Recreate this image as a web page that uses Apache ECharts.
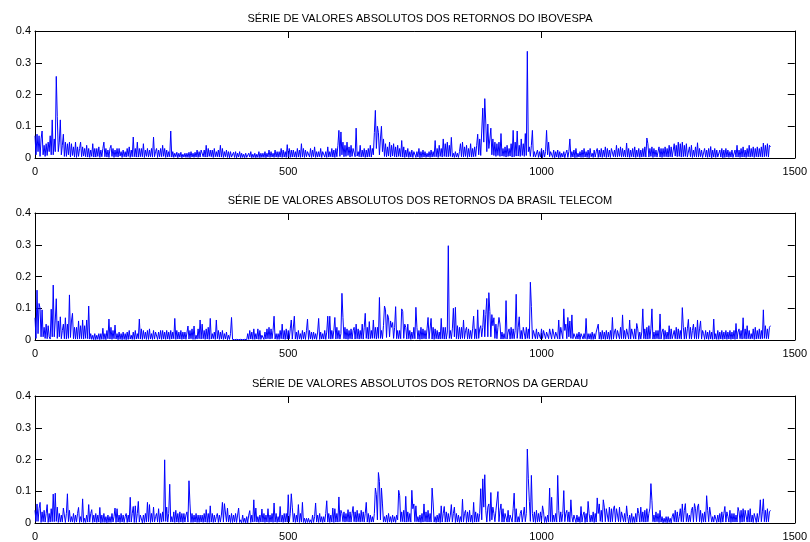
<!DOCTYPE html>
<html>
<head>
<meta charset="utf-8">
<script src="https://cdn.jsdelivr.net/npm/echarts@6/dist/echarts.min.js"></script>
<style>
html,body{margin:0;padding:0;background:#fff;}
#chart{width:810px;height:542px;}
</style>
</head>
<body>
<div id="chart"></div>
<script>
const titles = [
  'SÉRIE DE VALORES ABSOLUTOS DOS RETORNOS DO IBOVESPA',
  'SÉRIE DE VALORES ABSOLUTOS DOS RETORNOS DA BRASIL TELECOM',
  'SÉRIE DE VALORES ABSOLUTOS DOS RETORNOS DA GERDAU'
];
const xTicks = [0, 500, 1000, 1500];
const yTicks = [0, 0.1, 0.2, 0.3, 0.4];
const obsStep = 2; // one value read every 2 observations

const ibovespa = [
.07,.01,.075,.02,.07,.005,.06,.085,.01,.04,.005,.045,.008,.05,.02,
.07,.01,.12,.01,.06,.02,.257,.13,.02,.05,.12,.01,.04,.075,.005,
.05,.005,.045,.01,.05,.003,.045,.008,.035,.003,.05,.002,.035,.005,.03,
.05,.004,.035,.006,.03,.004,.04,.003,.03,.002,.025,.005,.045,.003,.03,
.003,.03,.005,.035,.002,.025,.004,.03,.05,.004,.03,.003,.025,.002,.03,
.04,.005,.03,.002,.025,.004,.03,.003,.03,.006,.02,.002,.025,.004,.02,
.003,.03,.005,.035,.002,.025,.004,.066,.004,.03,.003,.05,.003,.03,.004,
.03,.004,.045,.002,.025,.005,.03,.003,.025,.004,.03,.003,.066,.004,.02,
.03,.002,.025,.004,.03,.004,.04,.005,.03,.002,.025,.003,.02,.004,.085,
.003,.02,.002,.015,.004,.018,.001,.015,.003,.018,.001,.012,.003,.015,.002,
.015,.002,.018,.001,.02,.003,.015,.002,.018,.003,.025,.002,.02,.003,.025,
.03,.004,.025,.003,.04,.003,.03,.005,.025,.004,.025,.002,.03,.004,.02,
.004,.025,.003,.04,.003,.03,.002,.02,.004,.025,.002,.02,.001,.02,.003,
.003,.018,.002,.02,.001,.015,.003,.02,.001,.015,.002,.012,.001,.015,.002,
.001,.015,.003,.02,.001,.012,.002,.015,.001,.012,.002,.02,.001,.015,.002,
.015,.002,.02,.001,.015,.003,.025,.002,.02,.003,.015,.002,.025,.003,.02,
.002,.02,.003,.03,.002,.025,.003,.02,.002,.042,.004,.03,.002,.025,.003,
.025,.003,.02,.002,.03,.003,.025,.002,.045,.003,.03,.002,.025,.004,.02,
.02,.003,.03,.002,.025,.004,.035,.002,.02,.003,.02,.004,.03,.002,.02,
.025,.003,.02,.002,.035,.003,.02,.004,.03,.003,.025,.002,.03,.004,.04,
.087,.005,.082,.01,.05,.004,.04,.005,.05,.008,.035,.003,.04,.005,.03,
.035,.004,.094,.006,.02,.004,.04,.003,.025,.004,.03,.002,.025,.003,.03,
.004,.04,.003,.03,.01,.08,.15,.03,.10,.08,.01,.06,.10,.02,.06,
.005,.045,.004,.035,.006,.05,.003,.04,.006,.045,.004,.035,.003,.04,.005,
.03,.004,.055,.003,.035,.002,.025,.004,.03,.002,.02,.003,.025,.002,.02,
.025,.002,.02,.003,.03,.001,.02,.002,.025,.003,.02,.002,.015,.003,.02,
.002,.025,.003,.02,.004,.055,.004,.03,.002,.04,.005,.03,.003,.06,.005,
.045,.004,.05,.004,.04,.005,.065,.003,.015,.002,.02,.003,.015,.002,.02,
.045,.004,.05,.003,.035,.005,.04,.002,.03,.004,.045,.003,.03,.004,.035,
.005,.04,.075,.01,.06,.008,.085,.157,.05,.187,.11,.02,.107,.03,.06,
.094,.01,.06,.008,.05,.005,.045,.008,.05,.005,.077,.006,.03,.005,.035,
.003,.04,.005,.03,.006,.045,.003,.087,.004,.05,.006,.085,.006,.04,.005,
.06,.008,.045,.005,.077,.008,.336,.02,.035,.005,.04,.087,.004,.02,.003,
.001,.025,.002,.02,.003,.03,.001,.025,.003,.02,.087,.01,.05,.004,.02,
.015,.002,.025,.001,.02,.003,.025,.001,.02,.002,.015,.003,.02,.001,.015,
.025,.002,.02,.06,.002,.02,.003,.025,.001,.03,.002,.015,.003,.02,.002,
.025,.002,.03,.003,.02,.002,.025,.001,.03,.004,.015,.002,.025,.003,.02,
.03,.002,.025,.003,.03,.002,.025,.004,.035,.002,.03,.003,.025,.002,.03,
.03,.004,.025,.003,.04,.003,.03,.005,.035,.003,.03,.004,.025,.003,.047,
.003,.03,.002,.025,.004,.03,.003,.035,.002,.025,.004,.03,.002,.025,.003,
.03,.004,.035,.003,.063,.045,.003,.03,.005,.035,.002,.03,.004,.025,.003,
.004,.035,.003,.03,.002,.03,.004,.035,.004,.03,.003,.04,.004,.035,.003,
.005,.045,.006,.04,.004,.05,.005,.045,.003,.05,.004,.04,.005,.045,.003,
.003,.035,.004,.04,.002,.025,.004,.035,.003,.048,.003,.03,.004,.025,.002,
.002,.03,.003,.025,.002,.03,.003,.036,.001,.025,.003,.03,.002,.025,.003,
.002,.025,.003,.03,.001,.025,.002,.03,.003,.025,.002,.02,.003,.025,.002,
.002,.025,.003,.04,.003,.025,.002,.03,.003,.035,.003,.025,.002,.03,.004,
.04,.003,.03,.004,.035,.002,.03,.004,.035,.003,.03,.004,.035,.003,.047,
.004,.04,.005,.045,.003,.04,.035
];

const brasilTelecom = [
.07,.005,.157,.02,.115,.1,.01,.095,.01,.04,.005,.05,.004,.045,.01,
.003,.097,.01,.173,.01,.06,.13,.005,.06,.01,.073,.004,.03,.05,.004,
.07,.003,.05,.005,.142,.008,.06,.084,.004,.04,.003,.04,.003,.06,.004,
.045,.004,.063,.003,.045,.005,.063,.004,.107,.003,.02,.002,.015,.001,.02,
.001,.015,.002,.02,.001,.02,.002,.037,.002,.02,.001,.03,.004,.066,.003,
.04,.002,.03,.004,.047,.003,.02,.001,.025,.002,.02,.001,.025,.002,.02,
.001,.025,.002,.03,.003,.015,.002,.025,.002,.03,.003,.02,.004,.066,.003,
.035,.002,.03,.004,.025,.002,.03,.002,.035,.003,.02,.002,.03,.003,.025,
.03,.002,.025,.003,.03,.002,.03,.003,.025,.002,.03,.003,.025,.002,.03,
.003,.025,.004,.068,.002,.03,.003,.025,.003,.03,.002,.025,.003,.025,.002,
.002,.044,.003,.03,.004,.035,.002,.044,.002,.015,.003,.035,.004,.063,.003,
.05,.004,.03,.002,.035,.003,.04,.002,.068,.003,.02,.004,.025,.002,.063,
.004,.03,.002,.025,.003,.03,.002,.02,.003,.025,.001,.015,.002,.02,.071,
.002,.008,.001,.006,.002,.008,.001,.006,.002,.008,.001,.006,.002,.008,.001,
.02,.002,.03,.003,.025,.002,.035,.002,.02,.003,.035,.002,.03,.002,.015,
.02,.002,.025,.003,.035,.004,.04,.003,.035,.004,.03,.075,.003,.02,.002,
.02,.002,.03,.004,.05,.003,.03,.002,.035,.003,.03,.004,.035,.063,.003,
.004,.075,.003,.025,.002,.03,.003,.02,.002,.03,.003,.025,.002,.03,.066,
.002,.03,.003,.025,.002,.025,.003,.02,.002,.025,.068,.002,.025,.003,.02,
.003,.03,.002,.025,.075,.004,.075,.003,.03,.004,.03,.071,.003,.04,.004,
.03,.003,.02,.147,.071,.004,.04,.003,.035,.002,.03,.004,.035,.003,.03,
.04,.003,.05,.004,.035,.003,.03,.004,.05,.003,.04,.084,.005,.04,.003,
.058,.004,.03,.005,.063,.005,.04,.003,.04,.005,.134,.005,.03,.004,.045,
.107,.095,.008,.08,.07,.01,.06,.04,.055,.005,.04,.105,.004,.03,.004,
.03,.004,.098,.09,.005,.05,.04,.003,.05,.004,.03,.002,.025,.004,.04,
.004,.103,.04,.003,.03,.002,.04,.003,.035,.004,.03,.003,.035,.071,.004,
.004,.068,.003,.04,.002,.035,.004,.03,.003,.025,.003,.068,.004,.04,.003,
.04,.003,.025,.297,.005,.03,.004,.035,.1,.01,.103,.004,.045,.003,.04,
.003,.04,.005,.063,.004,.03,.04,.003,.035,.004,.03,.004,.035,.075,.004,
.035,.004,.095,.005,.035,.045,.01,.04,.095,.01,.08,.131,.01,.149,.09,
.01,.08,.045,.07,.005,.05,.004,.04,.071,.05,.003,.025,.003,.02,.004,
.124,.003,.025,.035,.003,.04,.004,.035,.004,.03,.144,.005,.04,.073,.004,
.03,.003,.04,.035,.003,.04,.005,.035,.004,.182,.105,.004,.03,.035,.004,
.035,.004,.025,.03,.004,.035,.005,.03,.035,.004,.025,.03,.004,.035,.03,
.003,.035,.03,.004,.025,.03,.004,.063,.003,.04,.035,.004,.098,.03,.05,
.004,.071,.01,.06,.005,.079,.004,.02,.025,.003,.02,.003,.025,.002,.02,
.025,.003,.02,.004,.068,.002,.02,.003,.02,.002,.025,.002,.02,.003,.025,
.03,.05,.003,.025,.002,.03,.003,.025,.002,.03,.003,.025,.002,.03,.002,
.071,.003,.025,.035,.004,.03,.025,.003,.04,.004,.079,.004,.03,.003,.035,
.04,.003,.063,.003,.035,.04,.004,.035,.003,.052,.035,.002,.025,.003,.025,
.098,.004,.035,.003,.04,.003,.045,.004,.035,.098,.003,.025,.003,.03,.004,
.03,.003,.082,.003,.025,.035,.002,.03,.003,.025,.003,.045,.003,.035,.004,
.002,.03,.004,.04,.003,.035,.004,.03,.003,.102,.04,.003,.04,.004,.035,
.065,.004,.04,.003,.03,.05,.004,.04,.003,.063,.004,.035,.06,.003,.03,
.02,.002,.03,.003,.025,.002,.03,.003,.025,.002,.066,.003,.02,.002,.03,
.002,.025,.003,.03,.002,.025,.003,.03,.002,.025,.003,.03,.002,.025,.003,
.03,.002,.052,.003,.025,.035,.004,.03,.003,.07,.004,.035,.003,.045,.004,
.03,.003,.02,.004,.035,.002,.04,.003,.03,.004,.035,.003,.03,.004,.095,
.005,.045,.004,.035,.004,.04,.045
];

const gerdau = [
.04,.005,.06,.005,.045,.065,.002,.035,.004,.04,.003,.03,.058,.002,.03,
.003,.045,.004,.091,.004,.094,.005,.05,.002,.03,.003,.025,.003,.047,.045,
.002,.03,.092,.004,.04,.003,.02,.003,.03,.002,.025,.003,.03,.049,.002,
.02,.003,.076,.002,.015,.002,.025,.003,.058,.003,.03,.042,.002,.025,.003,
.03,.002,.025,.003,.049,.001,.025,.002,.03,.002,.02,.001,.025,.002,.02,
.002,.03,.003,.02,.047,.002,.045,.003,.025,.002,.03,.003,.025,.002,.02,
.03,.002,.025,.003,.081,.003,.03,.052,.002,.054,.002,.03,.068,.003,.025,
.02,.001,.025,.002,.03,.003,.065,.004,.058,.002,.03,.003,.05,.003,.02,
.03,.003,.045,.002,.03,.003,.035,.005,.199,.005,.05,.003,.03,.122,.003,
.02,.003,.035,.002,.04,.003,.03,.002,.035,.003,.03,.002,.03,.003,.025,
.035,.003,.133,.06,.002,.03,.002,.025,.003,.03,.002,.025,.002,.025,.003,
.025,.002,.03,.003,.042,.002,.03,.002,.054,.003,.03,.002,.025,.003,.02,
.03,.002,.025,.003,.025,.065,.003,.061,.065,.004,.047,.003,.025,.002,.03,
.002,.025,.003,.03,.002,.025,.047,.002,.01,.001,.025,.002,.015,.001,.02,
.001,.025,.039,.002,.025,.003,.073,.004,.047,.003,.02,.002,.025,.003,.044,
.003,.03,.002,.025,.003,.045,.002,.025,.003,.03,.002,.063,.003,.03,.002,
.02,.003,.052,.003,.025,.002,.03,.003,.03,.003,.089,.004,.03,.092,.05,
.003,.03,.002,.025,.003,.058,.002,.03,.003,.065,.002,.015,.001,.015,.002,
.015,.002,.01,.001,.025,.002,.02,.063,.003,.025,.002,.03,.003,.02,.002,
.02,.003,.03,.07,.003,.03,.002,.025,.003,.047,.002,.045,.003,.03,.003,
.082,.004,.04,.03,.004,.035,.003,.03,.004,.042,.003,.035,.003,.03,.052,
.004,.035,.003,.04,.004,.03,.003,.04,.004,.035,.003,.03,.065,.003,.03,
.002,.025,.003,.02,.003,.03,.11,.089,.01,.159,.131,.01,.11,.06,.003,
.02,.003,.025,.002,.03,.003,.02,.002,.025,.003,.02,.002,.025,.01,.103,
.086,.004,.035,.004,.04,.003,.084,.003,.035,.004,.03,.003,.103,.045,.06,
.004,.054,.004,.02,.003,.025,.002,.03,.003,.06,.004,.035,.003,.04,.003,
.03,.003,.11,.063,.003,.02,.002,.025,.003,.03,.002,.054,.003,.03,.052,
.003,.035,.003,.03,.004,.025,.058,.003,.03,.05,.002,.03,.003,.025,.002,
.02,.003,.075,.003,.03,.04,.002,.035,.003,.04,.003,.025,.002,.065,.003,
.035,.003,.03,.004,.03,.108,.01,.139,.05,.152,.04,.003,.05,.06,.005,
.096,.01,.05,.03,.004,.04,.035,.099,.004,.04,.06,.003,.045,.003,.03,
.03,.003,.04,.003,.025,.03,.003,.045,.094,.003,.045,.003,.02,.003,.03,
.04,.003,.025,.05,.004,.03,.233,.141,.068,.005,.15,.03,.003,.035,.002,
.04,.003,.03,.004,.035,.004,.054,.035,.002,.02,.002,.025,.003,.11,.004,
.081,.003,.025,.004,.03,.003,.15,.04,.003,.035,.004,.03,.102,.004,.03,
.04,.004,.035,.003,.073,.02,.003,.025,.02,.002,.025,.003,.02,.002,.052,
.003,.025,.035,.002,.03,.003,.068,.03,.003,.025,.004,.035,.002,.03,.003,
.079,.03,.06,.005,.04,.003,.073,.05,.004,.045,.05,.004,.05,.003,.045,
.004,.045,.054,.003,.045,.025,.004,.05,.003,.035,.04,.004,.03,.003,.054,
.02,.001,.025,.002,.03,.002,.02,.002,.03,.003,.047,.03,.003,.05,.004,
.035,.003,.04,.003,.045,.004,.03,.047,.124,.07,.004,.025,.003,.035,.004,
.03,.002,.04,.003,.02,.001,.015,.002,.02,.001,.02,.002,.015,.001,.02,
.03,.004,.04,.003,.035,.003,.02,.045,.004,.06,.003,.04,.061,.004,.03,
.003,.025,.004,.04,.05,.003,.061,.045,.004,.05,.06,.004,.04,.002,.03,
.003,.035,.003,.086,.04,.004,.05,.045,.003,.02,.003,.025,.03,.002,.025,
.003,.03,.002,.035,.003,.03,.052,.003,.035,.02,.003,.04,.002,.03,.003,
.03,.003,.025,.003,.049,.035,.002,.04,.003,.045,.004,.04,.035,.003,.04,
.003,.045,.003,.025,.002,.03,.025,.002,.03,.003,.025,.073,.004,.035,.076,
.004,.04,.003,.045,.004,.035,.04
];

const seriesValues = [ibovespa, brasilTelecom, gerdau];

const gridTops = [31, 213, 396];
const gridHeight = 127;
const font = '"Liberation Sans", Arial, Helvetica, sans-serif';

const grids = [], xAxes = [], yAxes = [], series = [], title = [];
gridTops.forEach((top, k) => {
  grids.push({ left: 35, right: 14, top: top, height: gridHeight, show: false });
  title.push({
    text: titles[k], left: 415, top: top - 23, textAlign: 'center',
    textStyle: { fontFamily: font, fontSize: 11, fontWeight: 'normal', color: '#000' }
  });
  const axisLine = { show: true, onZero: false, lineStyle: { color: '#000', width: 1 } };
  const tick = { show: true, inside: true, length: 7, lineStyle: { color: '#000', width: 1 } };
  const common = { type: 'value', gridIndex: k, axisLine: axisLine, axisTick: tick, splitLine: { show: false } };
  xAxes.push(Object.assign({}, common, {
    position: 'bottom', min: xTicks[0], max: xTicks[xTicks.length - 1], interval: xTicks[1] - xTicks[0],
    axisLabel: { show: true, color: '#000', fontFamily: font, fontSize: 11, margin: 8, formatter: v => String(v) }
  }));
  xAxes.push(Object.assign({}, common, {
    position: 'top', min: xTicks[0], max: xTicks[xTicks.length - 1], interval: xTicks[1] - xTicks[0],
    axisLabel: { show: false }
  }));
  yAxes.push(Object.assign({}, common, {
    position: 'left', min: yTicks[0], max: yTicks[yTicks.length - 1], interval: yTicks[1] - yTicks[0],
    axisLabel: { show: true, color: '#000', fontFamily: font, fontSize: 11, margin: 4, formatter: v => String(v) }
  }));
  yAxes.push(Object.assign({}, common, {
    position: 'right', min: yTicks[0], max: yTicks[yTicks.length - 1], interval: yTicks[1] - yTicks[0],
    axisLabel: { show: false }
  }));
  series.push({
    type: 'line', xAxisIndex: 2 * k, yAxisIndex: 2 * k,
    data: seriesValues[k].map((v, i) => [i * obsStep, v]),
    showSymbol: false, symbol: 'none',
    lineStyle: { color: '#0000ff', width: 1 },
    silent: true
  });
});

const chart = echarts.init(document.getElementById('chart'), null, { renderer: 'canvas' });
chart.setOption({
  animation: false,
  backgroundColor: '#ffffff',
  title: title,
  grid: grids,
  xAxis: xAxes,
  yAxis: yAxes,
  series: series
});
</script>
</body>
</html>
